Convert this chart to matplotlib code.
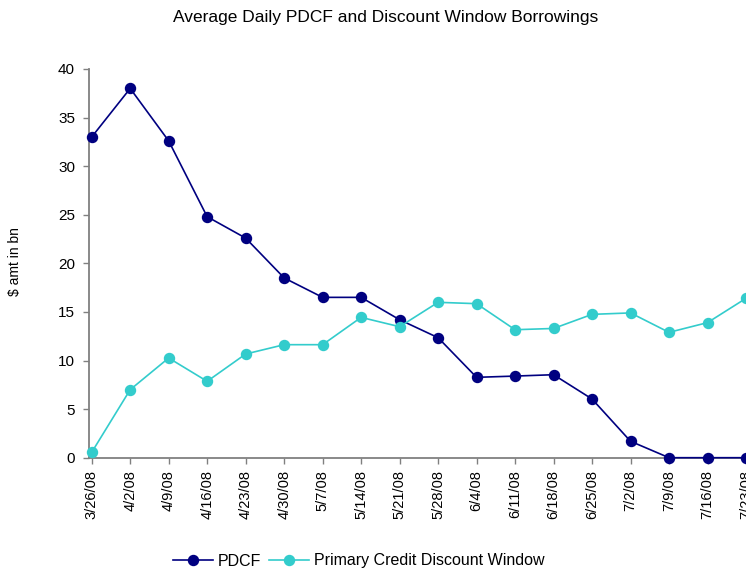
import matplotlib
matplotlib.use("Agg")
import matplotlib.pyplot as plt
import numpy as np

plt.rcParams["font.family"] = ["Liberation Sans", "DejaVu Sans"]

dates = ["3/26/08", "4/2/08", "4/9/08", "4/16/08", "4/23/08", "4/30/08",
         "5/7/08", "5/14/08", "5/21/08", "5/28/08", "6/4/08", "6/11/08",
         "6/18/08", "6/25/08", "7/2/08", "7/9/08", "7/16/08", "7/23/08"]
pdcf = [33.0, 38.0, 32.6, 24.8, 22.6, 18.5, 16.5, 16.5, 14.2, 12.35,
        8.27, 8.4, 8.54, 6.04, 1.69, 0.0, 0.0, 0.0]
discount_window = [0.55, 7.0, 10.26, 7.86, 10.67, 11.63, 11.63, 14.44, 13.48,
                   15.99, 15.85, 13.17, 13.3, 14.75, 14.9, 12.9, 13.9, 16.4]

NAVY = "#000080"
CYAN = "#33CCCC"
GREY = "#808080"

fig = plt.figure(figsize=(7.46, 5.69), dpi=100)
ax = fig.add_axes([89 / 746, 111.3 / 569, 1 - 89 / 746, 388.7 / 569])

x = np.arange(len(dates))
ax.plot(x, pdcf, color=NAVY, marker="o", markersize=7.2, linewidth=1.2,
        label="PDCF", clip_on=False, zorder=3)
ax.plot(x, discount_window, color=CYAN, marker="o", markersize=7.2, linewidth=1.2,
        label="Primary Credit Discount Window", clip_on=False, zorder=4)

ax.set_xlim(-0.07, 17.0)
ax.set_ylim(0, 40)
ax.set_yticks(range(0, 41, 5))
ax.set_xticks(x)
ax.set_xticklabels(dates, rotation=90, fontsize=10.5)
ax.tick_params(axis="y", labelsize=11, length=4, width=1, color=GREY, pad=6)
ax.tick_params(axis="x", length=4, width=1, color=GREY, pad=5)

for side in ("top", "right"):
    ax.spines[side].set_visible(False)
for side in ("left", "bottom"):
    ax.spines[side].set_color(GREY)
    ax.spines[side].set_linewidth(1.3)

fig.text(15 / 746, 1 - 262 / 569, "$ amt in bn", rotation=90,
         ha="center", va="center", fontsize=10)
fig.text(386 / 746, 1 - 17.5 / 569, "Average Daily PDCF and Discount Window Borrowings",
         ha="center", va="center", fontsize=12.5)

fig.legend(loc="center", bbox_to_anchor=(359 / 746, 1 - 561 / 569), ncol=2,
           frameon=False, fontsize=11.5, handlelength=2.5, handletextpad=0.3,
           columnspacing=0.5, borderaxespad=0)

fig.savefig("out.png", dpi=100)
